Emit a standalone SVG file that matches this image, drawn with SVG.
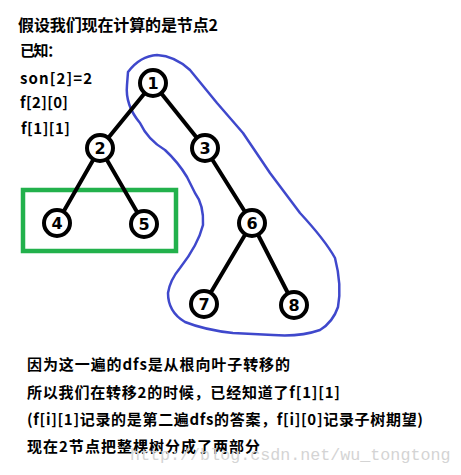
<svg xmlns="http://www.w3.org/2000/svg" width="461" height="475" viewBox="0 0 461 475">
<style>
.t{font-family:"Microsoft YaHei","Noto Sans CJK SC","Noto Sans",sans-serif;font-weight:bold;fill:#000}
.node circle{fill:#fff;stroke:#000;stroke-width:4}
.node text{font-family:"DejaVu Sans",sans-serif;font-size:16px;font-weight:bold;text-anchor:middle;fill:#000}
.edges line{stroke:#000;stroke-width:4;stroke-linecap:round}
</style>
<rect width="461" height="475" fill="#fff"/>
<g id="texts">
<text class="t" x="18" y="31" font-size="16" textLength="200" lengthAdjust="spacing">假设我们现在计算的是节点2</text>
<text class="t" x="20" y="56" font-size="15" textLength="42" lengthAdjust="spacing">已知：</text>
<text class="t" x="20" y="84" font-size="15" textLength="72" lengthAdjust="spacing">son[2]=2</text>
<text class="t" x="20" y="108" font-size="15" textLength="48" lengthAdjust="spacing">f[2][0]</text>
<text class="t" x="21" y="134" font-size="15" textLength="49" lengthAdjust="spacing">f[1][1]</text>
<text class="t" x="27" y="370" font-size="15" textLength="263" lengthAdjust="spacing">因为这一遍的dfs是从根向叶子转移的</text>
<text class="t" x="27" y="398" font-size="15" textLength="313" lengthAdjust="spacing">所以我们在转移2的时候，已经知道了f[1][1]</text>
<text class="t" x="27" y="425" font-size="15" textLength="396" lengthAdjust="spacing">(f[i][1]记录的是第二遍dfs的答案，f[i][0]记录子树期望)</text>
<text class="t" x="27" y="452" font-size="15" textLength="233" lengthAdjust="spacing">现在2节点把整棵树分成了两部分</text>
<text x="130" y="460" font-family="Liberation Mono,monospace" font-size="16.7" fill="#d4d4d4">http://blog.csdn.net/wu_tongtong</text>
</g>
<path id="loop" d="M128,72 Q140,56 157,55 Q175,56 190,70 L217,103 L243,133 L270,173 L300,213 Q325,240 335,258 Q342,285 338,307 Q333,322 320,330 Q300,337 273,335 L233,333 Q205,330 185,322 Q168,312 168,293 Q170,280 180,268 Q198,245 203,225 Q204,205 195,193 L187,177 Q178,162 165,150 Q148,140 140,123 Q125,105 127,85 Z" fill="none" stroke="#3f48cc" stroke-width="2.5" stroke-linejoin="round"/>
<rect id="box" x="23" y="190" width="153" height="61" fill="none" stroke="#22b14c" stroke-width="4.5"/>
<g class="edges" id="connectors">
<line x1="153" y1="83" x2="100" y2="148"/>
<line x1="153" y1="83" x2="205" y2="148"/>
<line x1="100" y1="148" x2="57" y2="223"/>
<line x1="100" y1="148" x2="144" y2="224"/>
<line x1="205" y1="148" x2="252" y2="223"/>
<line x1="252" y1="223" x2="204" y2="304"/>
<line x1="252" y1="223" x2="294" y2="305"/>
</g>
<g class="node" id="n1"><circle cx="153" cy="83" r="13"/><text x="153" y="89">1</text></g>
<g class="node" id="n2"><circle cx="100" cy="148" r="13"/><text x="100" y="154">2</text></g>
<g class="node" id="n3"><circle cx="205" cy="148" r="13"/><text x="205" y="154">3</text></g>
<g class="node" id="n4"><circle cx="57" cy="223" r="13"/><text x="57" y="229">4</text></g>
<g class="node" id="n5"><circle cx="144" cy="224" r="13"/><text x="144" y="230">5</text></g>
<g class="node" id="n6"><circle cx="252" cy="223" r="13"/><text x="252" y="229">6</text></g>
<g class="node" id="n7"><circle cx="204" cy="304" r="13"/><text x="204" y="310">7</text></g>
<g class="node" id="n8"><circle cx="294" cy="305" r="13"/><text x="294" y="311">8</text></g>
</svg>
